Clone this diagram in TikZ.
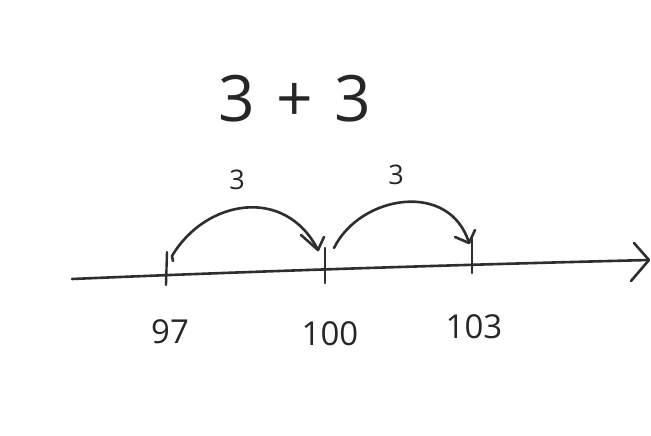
\documentclass[tikz,border=0pt]{standalone}
\usepackage{fontspec}
\setmainfont{Open Sans}
\begin{document}
\begin{tikzpicture}[x=1pt,y=-1pt,
  ink/.style={draw=black!82,line width=2.6pt,line cap=round,line join=round},
  tickmark/.style={ink,line width=2.4pt},
  big/.style={font=\fontsize{64}{64}\selectfont,text=black!85,inner sep=0pt},
  jumplbl/.style={font=\fontsize{27}{27}\selectfont,text=black!85,inner sep=0pt},
  numlbl/.style={font=\fontsize{33}{33}\selectfont,text=black!85,inner sep=0pt}]
\useasboundingbox (0,0) rectangle (651,436);
% number line
\coordinate (L) at (72,279);
\coordinate (T) at (649,260);
\draw[ink] (L) .. controls (260,271) and (450,265) .. (T);
\coordinate (ha) at (634,243);
\coordinate (hb) at (631,281);
\draw[ink] (ha) -- (T) -- (hb);
% ticks
\coordinate (t97a) at (167,252);  \coordinate (t97b) at (166,285);
\coordinate (t100a) at (325,248); \coordinate (t100b) at (325,283);
\coordinate (t103a) at (472,238); \coordinate (t103b) at (472,273);
\draw[tickmark] (t97a) -- (t97b);
\draw[tickmark] (t100a) -- (t100b);
\draw[tickmark] (t103a) -- (t103b);
% jump 1
\coordinate (j1s) at (173,261);
\coordinate (j1h) at (172,256);
\coordinate (j1e) at (318,250);
\draw[ink] (j1s) -- (j1h) .. controls (205,200) and (285,185) .. (j1e);
\coordinate (a1l) at (301,235);
\coordinate (a1r) at (324,237);
\draw[ink] (a1l) -- (j1e) -- (a1r);
% jump 2
\coordinate (j2s) at (334,248);
\coordinate (j2e) at (469,243);
\draw[ink] (j2s) .. controls (360,195) and (450,180) .. (j2e);
\coordinate (a2l) at (455,237);
\coordinate (a2r) at (475,230);
\draw[ink] (a2l) -- (j2e) -- (a2r);
% labels
\node[big] (sum) at (295,99) {3\,\,+\,\,3};
\node[jumplbl] (lab1) at (237,180) {3};
\node[jumplbl] (lab2) at (396,175) {3};
\node[numlbl] (n97) at (170,332) {97};
\node[numlbl] (n100) at (330,334) {100};
\node[numlbl] (n103) at (474,327) {103};
\end{tikzpicture}
\end{document}
